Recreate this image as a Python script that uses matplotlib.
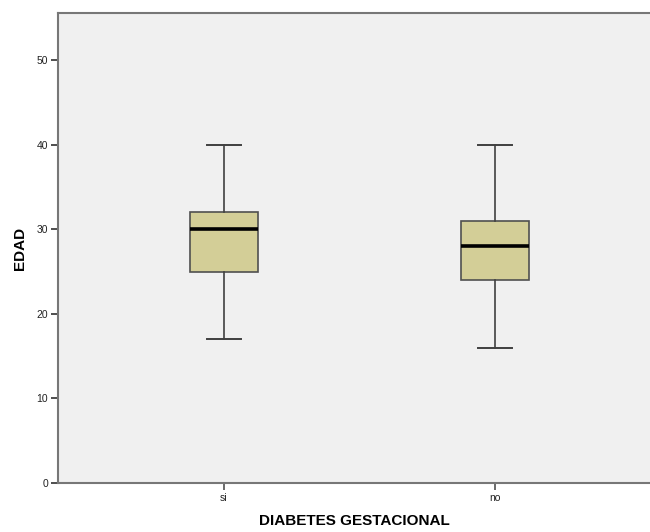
import matplotlib
matplotlib.use('Agg')
from matplotlib import pyplot as plt

# values
categories = ['si', 'no']
whislo = [17, 16]
q1 = [25, 24]
medians = [30, 28]
q3 = [32, 31]
whishi = [40, 40]

plt.rcParams['font.family'] = ['Liberation Sans', 'DejaVu Sans']

fig = plt.figure(figsize=(6.5, 5.32), dpi=100)
ax = fig.add_axes([58 / 650, 49 / 532, 592 / 650, 470 / 532])
ax.set_facecolor('#F0F0F0')

stats = [
    dict(label=c, whislo=lo, q1=a, med=m, q3=b, whishi=hi, fliers=[])
    for c, lo, a, m, b, hi in zip(categories, whislo, q1, medians, q3, whishi)
]
ax.bxp(
    stats,
    positions=range(len(categories)),
    widths=0.25,
    patch_artist=True,
    showfliers=False,
    boxprops=dict(facecolor='#D3CE97', edgecolor='#505050', linewidth=1.2),
    medianprops=dict(color='black', linewidth=2.6),
    whiskerprops=dict(color='#404040', linewidth=1.2),
    capprops=dict(color='#404040', linewidth=1.4),
    capwidths=0.125,
)

ax.set_xlim(-0.61, 1.57)
ax.set_ylim(0, 55.6)
ax.set_yticks([0, 10, 20, 30, 40, 50])
ax.set_xticks(range(len(categories)))
ax.set_xticklabels(categories)
ax.tick_params(axis='both', labelsize=7.5, colors='#222222', width=1.2, length=5, pad=2)
ax.tick_params(axis='x', length=5, color='#505050')
ax.tick_params(axis='y', color='#303030')

for side in ['left', 'bottom', 'top']:
    ax.spines[side].set_color('#777777')
    ax.spines[side].set_linewidth(1.5)
ax.spines['right'].set_visible(False)

ax.set_xlabel('DIABETES GESTACIONAL', fontsize=11, fontweight='bold', labelpad=8)
ax.set_ylabel('EDAD', fontsize=11, fontweight='bold', labelpad=7)

fig.savefig('out.png', dpi=100, facecolor='white')
